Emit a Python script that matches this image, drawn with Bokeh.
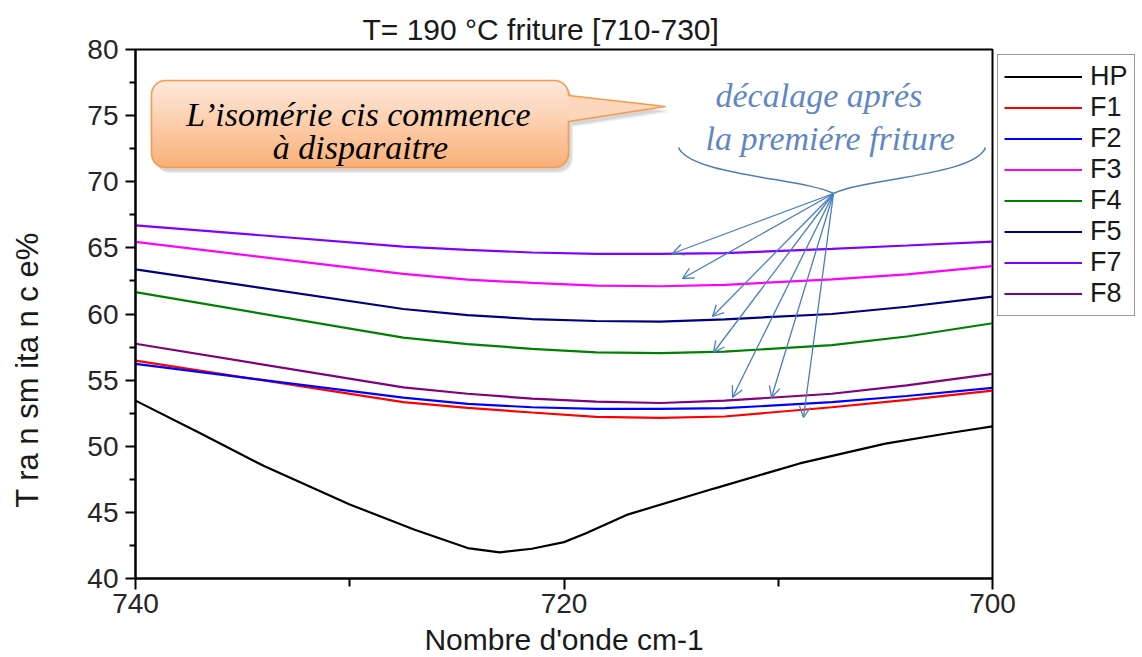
import numpy as np
from bokeh.plotting import figure
from bokeh.models import Range1d, FixedTicker, Label, Legend, LegendItem, Arrow, OpenHead
from bokeh.embed import file_html
from bokeh.resources import INLINE

# ---- data: transmittance (%) versus wavenumber (cm-1) ----
wavenumber = [740, 727.5, 724.5, 721.5, 718.5, 715.5, 712.5, 707.5, 704, 700]
F1 = [56.48, 53.33, 52.9, 52.55, 52.22, 52.15, 52.25, 52.95, 53.5, 54.2]
F2 = [56.23, 53.68, 53.2, 52.95, 52.83, 52.83, 52.88, 53.33, 53.8, 54.42]
F3 = [65.45, 63.03, 62.6, 62.35, 62.15, 62.1, 62.2, 62.62, 63.0, 63.62]
F4 = [61.65, 58.21, 57.72, 57.37, 57.1, 57.04, 57.15, 57.65, 58.3, 59.3]
F5 = [63.38, 60.38, 59.92, 59.62, 59.47, 59.43, 59.6, 60.0, 60.55, 61.32]
F7 = [66.7, 65.1, 64.85, 64.65, 64.55, 64.55, 64.6, 64.93, 65.18, 65.48]
F8 = [57.75, 54.45, 53.97, 53.6, 53.37, 53.27, 53.45, 53.97, 54.6, 55.47]

hp_wavenumber = [740, 737, 734, 730, 727, 724.5, 723, 721.5, 720, 719, 717, 713, 709, 705, 702, 700]
HP = [53.45, 51.0, 48.5, 45.6, 43.7, 42.3, 41.98, 42.25, 42.75, 43.4, 44.85, 46.8, 48.7, 50.2, 51.0, 51.5]

series_names = ["HP", "F1", "F2", "F3", "F4", "F5", "F7", "F8"]
series_colors = ["#000000", "#ff0000", "#0000ff", "#ff00ff", "#008000", "#000080", "#8000ff", "#800080"]

x_ticks = [740, 720, 700]
x_minor_ticks = [730, 710]
y_ticks = [40, 45, 50, 55, 60, 65, 70, 75, 80]
y_minor_ticks = [42.5, 47.5, 52.5, 57.5, 62.5, 67.5, 72.5, 77.5]

# ---- page geometry (pixels) ----
W, H = 1142, 657
FL, FR, FT, FB = 135, 992, 49, 578          # frame edges on the page
X0, X1, Y0, Y1 = 740, 700, 40, 80


def dx(px):
    return X0 + (px - FL) * (X1 - X0) / (FR - FL)


def dy(py):
    return Y1 - (py - FT) * (Y1 - Y0) / (FB - FT)


def sx(px):
    return px - FL


def sy(py):
    return FB - py


SANS = "Liberation Sans"
SERIF = "Liberation Serif"

p = figure(width=None, height=None, frame_width=FR - FL, frame_height=FB - FT,
           x_range=Range1d(X0, X1), y_range=Range1d(Y0, Y1),
           output_backend="svg", toolbar_location=None,
           min_border_left=FL, min_border_right=W - FR, min_border_top=FT, min_border_bottom=H - FB)
p.xgrid.visible = False
p.ygrid.visible = False
p.outline_line_color = "black"
p.outline_line_width = 2
p.background_fill_color = "white"
p.border_fill_color = "white"

p.title.text = "T= 190 °C friture [710-730]"
p.title.align = "left"
p.title.offset = 362 - FL
p.title.text_font = SANS
p.title.text_font_size = "30px"
p.title.text_font_style = "normal"
p.title.text_color = "#1a1a1a"
p.title.standoff = 8

xa = p.xaxis[0]
xa.ticker = FixedTicker(ticks=x_ticks, minor_ticks=x_minor_ticks)
ya = p.yaxis[0]
ya.ticker = FixedTicker(ticks=y_ticks, minor_ticks=y_minor_ticks)
for ax in (xa, ya):
    ax.axis_line_width = 2
    ax.axis_line_color = "black"
    ax.major_tick_line_width = 2
    ax.minor_tick_line_width = 2
    ax.major_tick_in = 0
    ax.minor_tick_in = 0
    ax.major_label_text_font = SANS
    ax.major_label_text_font_size = "28px"
    ax.major_label_text_color = "#262626"
    ax.axis_label_text_font = SANS
    ax.axis_label_text_font_style = "normal"
    ax.axis_label_text_color = "#1a1a1a"
xa.major_tick_out = 11
xa.minor_tick_out = 8
xa.major_label_standoff = 4
xa.axis_label = "Nombre d'onde cm-1"
xa.axis_label_text_font_size = "30px"
xa.axis_label_standoff = 7
ya.major_tick_out = 10
ya.minor_tick_out = 6
ya.major_label_standoff = 7
# trailing no-break spaces push the rotated title down along the axis
ya.axis_label = "T ra n sm ita n c e%" + "\u00a0" * 13
ya.axis_label_text_font_size = "31px"
ya.axis_label_standoff = 39

# ---- curves ----
renderers = [p.line(hp_wavenumber, HP, line_color=series_colors[0], line_width=2.2)]
for vals, col in zip([F1, F2, F3, F4, F5, F7, F8], series_colors[1:]):
    renderers.append(p.line(wavenumber, vals, line_color=col, line_width=2.2))

legend = Legend(items=[LegendItem(label=n, renderers=[rr]) for n, rr in zip(series_names, renderers)],
                location="top_left",
                border_line_color="#333333", border_line_width=1.5,
                background_fill_color="white", background_fill_alpha=1.0,
                label_text_font=SANS, label_text_font_size="27px",
                label_text_color="#1a1a1a",
                glyph_width=78, glyph_height=29, label_height=29, spacing=0,
                padding=6, margin=5, label_standoff=8)
p.add_layout(legend, "right")

# ---- callout bubble ----
bl, bt, br, bb, rad = 151, 80, 568, 167, 14
ptr_top, ptr_tip, ptr_bot = 95, (665, 106), 121


def arc(cx, cy, a0, a1, n=10):
    a = np.linspace(a0, a1, n)
    return list(cx + rad * np.cos(a)), list(cy + rad * np.sin(a))


def bubble_outline(ox=0.0, oy=0.0):
    xs, ys = [], []
    for cx, cy, a0, a1 in [(bl + rad, bt + rad, np.pi, 1.5 * np.pi),
                           (br - rad, bt + rad, 1.5 * np.pi, 2 * np.pi)]:
        ax_, ay_ = arc(cx, cy, a0, a1)
        xs += ax_
        ys += ay_
    xs += [br, ptr_tip[0], br]
    ys += [ptr_top, ptr_tip[1], ptr_bot]
    for cx, cy, a0, a1 in [(br - rad, bb - rad, 0, 0.5 * np.pi),
                           (bl + rad, bb - rad, 0.5 * np.pi, np.pi)]:
        ax_, ay_ = arc(cx, cy, a0, a1)
        xs += ax_
        ys += ay_
    return [dx(v + ox) for v in xs], [dy(v + oy) for v in ys]


# soft drop shadow
for off, alpha in [(4.5, 0.12), (3.0, 0.18)]:
    sxs, sys_ = bubble_outline(off, off + 1)
    p.patch(sxs, sys_, fill_color="#6f6f6f", fill_alpha=alpha, line_color=None)


def inset(y):
    if y < bt + rad:
        d = bt + rad - y
    elif y > bb - rad:
        d = y - (bb - rad)
    else:
        return 0.0
    return rad - np.sqrt(max(rad ** 2 - d ** 2, 0.0))


top_rgb = np.array([254, 234, 221])
bot_rgb = np.array([249, 176, 120])


def shade(y):
    f = (y - bt) / (bb - bt)
    c = top_rgb + (bot_rgb - top_rgb) * f
    return "#%02x%02x%02x" % tuple(int(round(v)) for v in c)


# pointer fill
p.patch([dx(br - 1), dx(ptr_tip[0]), dx(br - 1)], [dy(ptr_top), dy(ptr_tip[1]), dy(ptr_bot)],
        fill_color=shade(108), line_color=None)

# vertical gradient in thin bands
n_bands = 44
band_h = (bb - bt) / n_bands
gx, gy, gc = [], [], []
for i in range(n_bands):
    y0 = bt + i * band_h
    y1 = min(y0 + band_h + 0.6, bb)
    gx.append([dx(bl + inset(y0)), dx(br - inset(y0)), dx(br - inset(y1)), dx(bl + inset(y1))])
    gy.append([dy(y0), dy(y0), dy(y1), dy(y1)])
    gc.append(shade(y0 + band_h / 2))
p.patches(gx, gy, fill_color=gc, line_color=None)

ox_, oy_ = bubble_outline()
p.patch(ox_, oy_, fill_alpha=0, line_color="#f59a4e", line_width=1.6)

for txt, cx, by in [("L’isomérie cis commence", 358, 114), ("à disparaitre", 360, 147)]:
    p.add_layout(Label(x=sx(cx), y=sy(by), x_units="screen", y_units="screen", text=txt,
                       text_font=SERIF, text_font_style="italic", text_font_size="34px",
                       text_color="black", text_align="center", text_baseline="alphabetic"))

# ---- "shift" note with brace and arrows ----
BLUE = "#5f87c2"
ARROW_BLUE = "#4a7ebb"
for txt, lx, by in [("décalage aprés", 715, 95), ("la premiére friture", 705, 138)]:
    p.add_layout(Label(x=sx(lx), y=sy(by), x_units="screen", y_units="screen", text=txt,
                       text_font=SERIF, text_font_style="italic", text_font_size="34px",
                       text_color=BLUE, text_align="left", text_baseline="alphabetic"))

tip = (833, 193)
p.bezier(x0=[dx(678), dx(985)], y0=[dy(147), dy(147)],
         x1=[dx(tip[0]), dx(tip[0])], y1=[dy(tip[1]), dy(tip[1])],
         cx0=[dx(690), dx(975)], cy0=[dy(175), dy(175)],
         cx1=[dx(805), dx(862)], cy1=[dy(178), dy(178)],
         line_color=ARROW_BLUE, line_width=1.5)

arrow_ends = [(672, 253), (682, 278), (712, 316), (713, 352), (732, 397), (771, 397), (803, 417)]
for ex, ey in arrow_ends:
    p.add_layout(Arrow(end=OpenHead(size=11, line_color=ARROW_BLUE, line_width=1.3),
                       x_start=dx(tip[0]), y_start=dy(tip[1]), x_end=dx(ex), y_end=dy(ey),
                       line_color=ARROW_BLUE, line_width=1.3))

open("out.html", "w").write(file_html(p, INLINE))
